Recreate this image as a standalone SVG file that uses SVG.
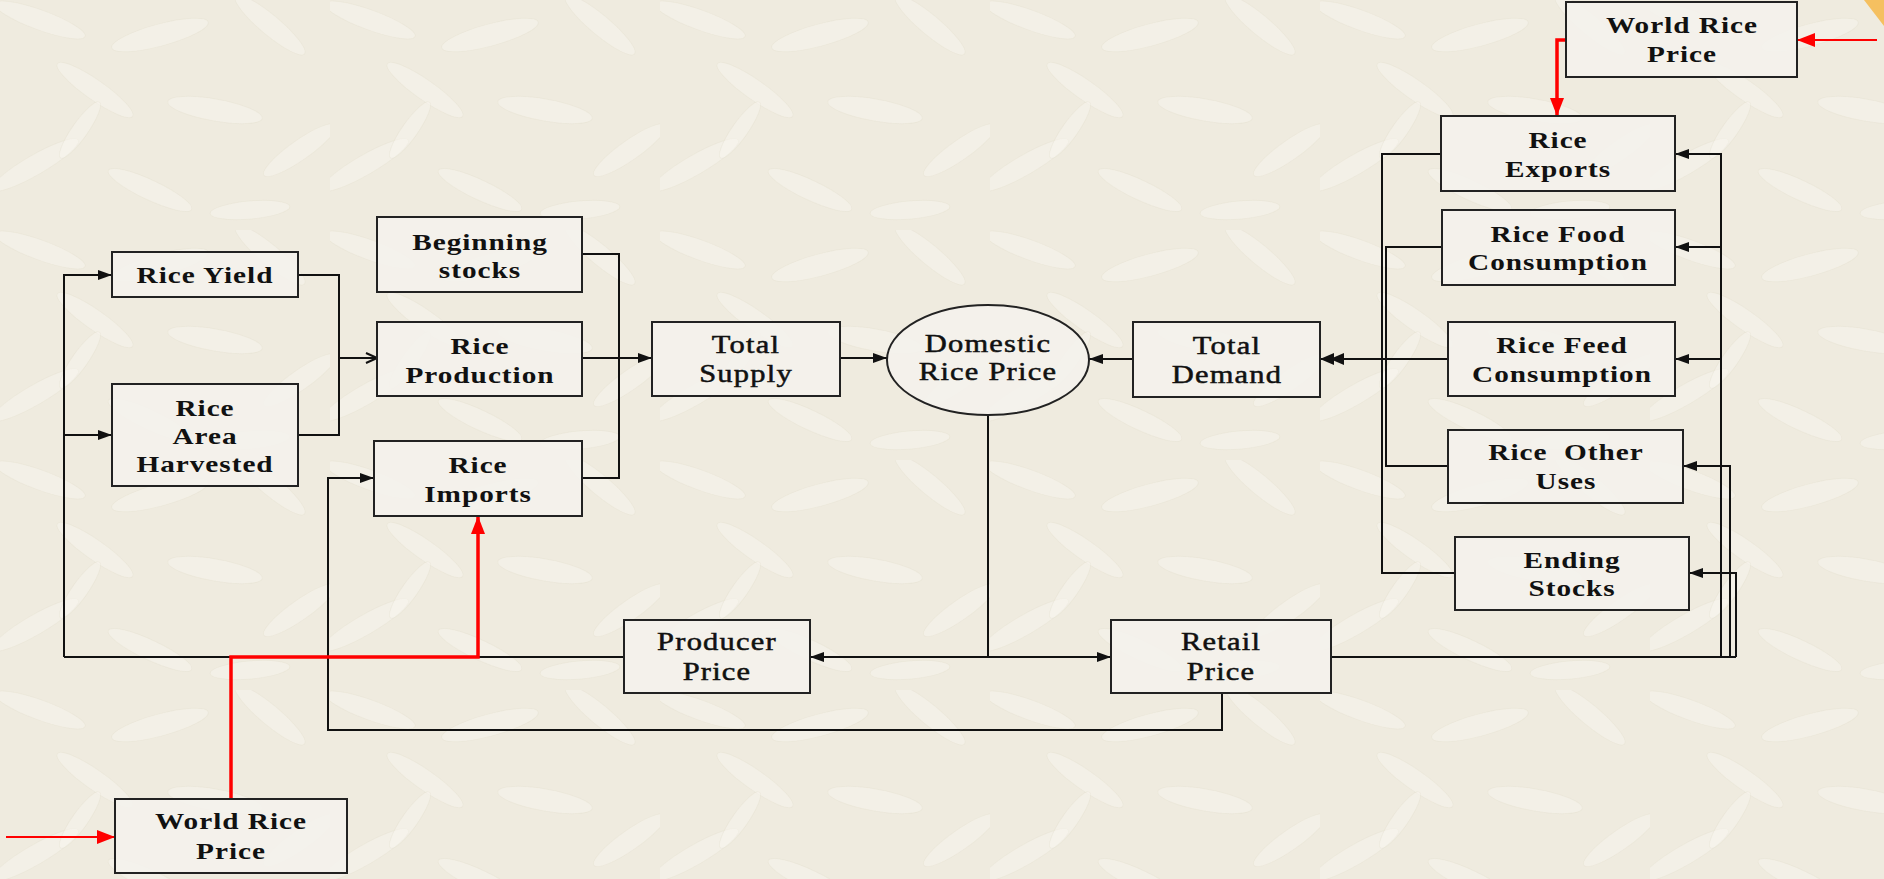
<svg xmlns="http://www.w3.org/2000/svg" width="1884" height="879" viewBox="0 0 1884 879">
<defs>
<style>
.box{fill:#f4f2ec;fill-opacity:0.9;stroke:#222;stroke-width:2}
.t{font-family:"Liberation Serif","Times New Roman",serif;font-size:24px;font-weight:bold;fill:#111;text-anchor:middle;letter-spacing:0.8px}
.n{font-weight:normal;letter-spacing:1px;font-size:25px;stroke:#111;stroke-width:0.5}
.ln{fill:none;stroke:#111;stroke-width:2}
.red{fill:none;stroke:#f00;stroke-width:3.5}
.redthin{fill:none;stroke:#f00;stroke-width:2}
.grain{fill:#faf8f2;fill-opacity:0.4;stroke:#ddd6c4;stroke-opacity:0.25;stroke-width:1}
</style>
<pattern id="rice" width="330" height="230" patternUnits="userSpaceOnUse">
<ellipse class="grain" cx="40" cy="20" rx="48" ry="10" transform="rotate(20 40 20)"/>
<ellipse class="grain" cx="160" cy="35" rx="50" ry="11" transform="rotate(-15 160 35)"/>
<ellipse class="grain" cx="270" cy="25" rx="45" ry="10" transform="rotate(40 270 25)"/>
<ellipse class="grain" cx="95" cy="90" rx="46" ry="10" transform="rotate(35 95 90)"/>
<ellipse class="grain" cx="215" cy="110" rx="48" ry="11" transform="rotate(10 215 110)"/>
<ellipse class="grain" cx="300" cy="150" rx="44" ry="10" transform="rotate(-35 300 150)"/>
<ellipse class="grain" cx="35" cy="165" rx="50" ry="10" transform="rotate(-30 35 165)"/>
<ellipse class="grain" cx="150" cy="190" rx="46" ry="10" transform="rotate(25 150 190)"/>
<ellipse class="grain" cx="250" cy="210" rx="40" ry="9" transform="rotate(-5 250 210)"/>
<ellipse class="grain" cx="80" cy="130" rx="34" ry="8" transform="rotate(-55 80 130)"/>
</pattern>
<marker id="a" markerWidth="14" markerHeight="10" refX="14" refY="5" orient="auto" markerUnits="userSpaceOnUse">
<path d="M0,0 L14,5 L0,10 z" fill="#111"/>
</marker>
<marker id="a2" markerWidth="24" markerHeight="12" refX="24" refY="6" orient="auto" markerUnits="userSpaceOnUse">
<path d="M0,0 L14,6 L0,12 z M10,0 L24,6 L10,12 z" fill="#111"/>
</marker>
<marker id="open" markerWidth="14" markerHeight="12" refX="13" refY="6" orient="auto" markerUnits="userSpaceOnUse">
<path d="M2,1 L13,6 L2,11" fill="none" stroke="#111" stroke-width="2"/>
</marker>
<marker id="r" markerWidth="18" markerHeight="14" refX="18" refY="7" orient="auto" markerUnits="userSpaceOnUse">
<path d="M0,0 L18,7 L0,14 z" fill="#f00"/>
</marker>
</defs>

<rect width="1884" height="879" fill="#efebdf"/>
<rect width="1884" height="879" fill="url(#rice)"/>
<polygon points="1864,0 1884,0 1884,26" fill="#f5c060"/>

<g id="connectors">
<path class="ln" d="M64,657 V275 H112" marker-end="url(#a)"/>
<path class="ln" d="M64,435 H112" marker-end="url(#a)"/>
<path class="ln" d="M64,657 H624"/>
<path class="ln" d="M298,275 H339 V435 H298"/>
<path class="ln" d="M339,358 H377" marker-end="url(#open)"/>
<path class="ln" d="M582,254 H619 V478 H582"/>
<path class="ln" d="M582,358 H652" marker-end="url(#a)"/>
<path class="ln" d="M840,358 H887" marker-end="url(#a)"/>
<path class="ln" d="M1133,359 H1089" marker-end="url(#a)" stroke="#444"/>
<path class="ln" d="M1441,154 H1382 V573 H1455"/>
<path class="ln" d="M1442,247 H1386 V466 H1448"/>
<path class="ln" d="M1448,359 H1382"/>
<path class="ln" d="M1382,359 H1320" marker-end="url(#a2)" stroke-width="2.5"/>
<path class="ln" d="M1331,657 H1736" stroke-width="2.5"/>
<path class="ln" d="M1721,657 V154 H1675" marker-end="url(#a)"/>
<path class="ln" d="M1721,247 H1675" marker-end="url(#a)"/>
<path class="ln" d="M1721,359 H1675" marker-end="url(#a)"/>
<path class="ln" d="M1730,657 V466 H1683" marker-end="url(#a)"/>
<path class="ln" d="M1736,657 V573 H1689" marker-end="url(#a)"/>
<path class="ln" d="M988,415 V657"/>
<path class="ln" d="M988,657 H810" marker-end="url(#a)"/>
<path class="ln" d="M988,657 H1111" marker-end="url(#a)"/>
<path class="ln" d="M1222,693 V730 H328 V478 H374" marker-end="url(#a)"/>
<path class="red" d="M231,799 V657 H478 V516" marker-end="url(#r)"/>
<path class="red" d="M1566,40 H1557 V116" marker-end="url(#r)"/>
<path class="redthin" d="M1877,40 H1797" marker-end="url(#r)"/>
<path class="redthin" d="M6,837 H115" marker-end="url(#r)"/>
</g>

<g id="rice-yield"><rect class="box" x="112" y="252" width="186" height="45"/><text class="t" transform="translate(205 283) scale(1.22 1)">Rice Yield</text></g>
<g id="rice-area"><rect class="box" x="112" y="384" width="186" height="102"/><text class="t" transform="translate(205 416) scale(1.22 1)">Rice</text><text class="t" transform="translate(205 444) scale(1.22 1)">Area</text><text class="t" transform="translate(205 472) scale(1.22 1)">Harvested</text></g>
<g id="beginning-stocks"><rect class="box" x="377" y="217" width="205" height="75"/><text class="t" transform="translate(480 250) scale(1.22 1)">Beginning</text><text class="t" transform="translate(480 278) scale(1.22 1)">stocks</text></g>
<g id="rice-production"><rect class="box" x="377" y="322" width="205" height="74"/><text class="t" transform="translate(480 354) scale(1.22 1)">Rice</text><text class="t" transform="translate(480 383) scale(1.22 1)">Production</text></g>
<g id="rice-imports"><rect class="box" x="374" y="441" width="208" height="75"/><text class="t" transform="translate(478 473) scale(1.22 1)">Rice</text><text class="t" transform="translate(478 502) scale(1.22 1)">Imports</text></g>
<g id="total-supply"><rect class="box" x="652" y="322" width="188" height="74"/><text class="t n" transform="translate(746 353) scale(1.22 1)">Total</text><text class="t n" transform="translate(746 382) scale(1.22 1)">Supply</text></g>
<g id="domestic-price"><ellipse class="box" cx="988" cy="360" rx="101" ry="55"/><text class="t n" transform="translate(988 352) scale(1.22 1)">Domestic</text><text class="t n" transform="translate(988 380) scale(1.22 1)">Rice Price</text></g>
<g id="total-demand"><rect class="box" x="1133" y="322" width="187" height="75"/><text class="t n" transform="translate(1227 354) scale(1.22 1)">Total</text><text class="t n" transform="translate(1227 383) scale(1.22 1)">Demand</text></g>
<g id="world-price-top"><rect class="box" x="1566" y="2" width="231" height="75"/><text class="t" transform="translate(1682 33) scale(1.22 1)">World Rice</text><text class="t" transform="translate(1682 62) scale(1.22 1)">Price</text></g>
<g id="rice-exports"><rect class="box" x="1441" y="116" width="234" height="75"/><text class="t" transform="translate(1558 148) scale(1.22 1)">Rice</text><text class="t" transform="translate(1558 177) scale(1.22 1)">Exports</text></g>
<g id="rice-food"><rect class="box" x="1442" y="210" width="233" height="75"/><text class="t" transform="translate(1558 242) scale(1.22 1)">Rice Food</text><text class="t" transform="translate(1558 270) scale(1.22 1)">Consumption</text></g>
<g id="rice-feed"><rect class="box" x="1448" y="322" width="227" height="74"/><text class="t" transform="translate(1562 353) scale(1.22 1)">Rice Feed</text><text class="t" transform="translate(1562 382) scale(1.22 1)">Consumption</text></g>
<g id="rice-other"><rect class="box" x="1448" y="430" width="235" height="73"/><text class="t" transform="translate(1566 460) scale(1.22 1)" style="white-space:pre">Rice  Other</text><text class="t" transform="translate(1566 489) scale(1.22 1)">Uses</text></g>
<g id="ending-stocks"><rect class="box" x="1455" y="537" width="234" height="73"/><text class="t" transform="translate(1572 568) scale(1.22 1)">Ending</text><text class="t" transform="translate(1572 596) scale(1.22 1)">Stocks</text></g>
<g id="producer-price"><rect class="box" x="624" y="620" width="186" height="73"/><text class="t n" transform="translate(717 650) scale(1.22 1)">Producer</text><text class="t n" transform="translate(717 680) scale(1.22 1)">Price</text></g>
<g id="retail-price"><rect class="box" x="1111" y="620" width="220" height="73"/><text class="t n" transform="translate(1221 650) scale(1.22 1)">Retail</text><text class="t n" transform="translate(1221 680) scale(1.22 1)">Price</text></g>
<g id="world-price-bottom"><rect class="box" x="115" y="799" width="232" height="74"/><text class="t" transform="translate(231 829) scale(1.22 1)">World Rice</text><text class="t" transform="translate(231 859) scale(1.22 1)">Price</text></g>
</svg>
